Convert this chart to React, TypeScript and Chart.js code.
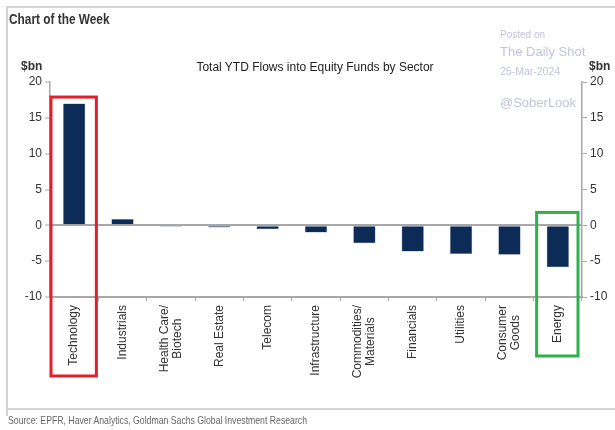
import React, { useEffect, useRef } from "react";
import { Chart, registerables } from "chart.js";

Chart.register(...registerables);

const categories: (string | string[])[] = [
  "Technology",
  "Industrials",
  ["Health Care/", "Biotech"],
  "Real Estate",
  "Telecom",
  "Infrastructure",
  ["Commodities/", "Materials"],
  "Financials",
  "Utilities",
  ["Consumer", "Goods"],
  "Energy",
];
const flows: number[] = [17.0, 0.9, -0.2, -0.3, -0.55, -1.0, -2.5, -3.65, -4.0, -4.1, -5.85];
const yMin = -10;
const yMax = 20;
const yStep = 5;

const FONT = "'Liberation Sans', Arial, sans-serif";

const framePlugin = {
  id: "frame",
  beforeDraw(chart: any) {
    const ctx = chart.ctx;
    ctx.save();
    ctx.strokeStyle = "#d4d4d4";
    ctx.lineWidth = 2;
    ctx.beginPath();
    ctx.moveTo(7, 416);
    ctx.lineTo(7, 7);
    ctx.lineTo(615, 7);
    ctx.moveTo(8, 409);
    ctx.lineTo(615, 409);
    ctx.stroke();
    ctx.restore();
  },
};

const labelPlugin = {
  id: "catLabels",
  afterDraw(chart: any) {
    const ctx = chart.ctx;
    const x = chart.scales.x;
    const top = chart.chartArea.bottom + 8;
    ctx.save();
    ctx.font = `12px ${FONT}`;
    ctx.fillStyle = "#333";
    ctx.textAlign = "center";
    ctx.textBaseline = "middle";
    const lh = 13;
    categories.forEach((lab, i) => {
      const lines = Array.isArray(lab) ? lab : [lab];
      const w = Math.max(...lines.map((l) => ctx.measureText(l).width));
      const cx = x.getPixelForValue(i);
      const cy = top + w / 2;
      lines.forEach((line, j) => {
        const off = (j - (lines.length - 1) / 2) * lh;
        ctx.save();
        ctx.translate(cx + off, cy);
        ctx.rotate(-Math.PI / 2);
        ctx.fillText(line, 0, 0);
        ctx.restore();
      });
    });
    ctx.restore();
  },
};

const highlightPlugin = {
  id: "highlight",
  afterDatasetsDraw(chart: any) {
    const ctx = chart.ctx;
    const x = chart.scales.x;
    const y = chart.scales.y;
    const band = x.width / categories.length;
    const bottom = chart.chartArea.bottom;
    ctx.save();
    ctx.lineWidth = 3;
    const c0 = x.getPixelForValue(0);
    ctx.strokeStyle = "#e0202a";
    ctx.strokeRect(c0 - band / 2 + 1, y.getPixelForValue(17.9), band - 3, bottom + 79 - y.getPixelForValue(17.9));
    const cE = x.getPixelForValue(categories.length - 1);
    ctx.strokeStyle = "#2fb24a";
    ctx.strokeRect(cE - band / 2 + 3, y.getPixelForValue(1.8), band - 7, bottom + 59 - y.getPixelForValue(1.8));
    ctx.restore();
  },
};

export default function App() {
  const ref = useRef<HTMLCanvasElement>(null);

  useEffect(() => {
    if (!ref.current) return;
    const axisColor = "#a8a8a8";
    const chart = new Chart(ref.current, {
      type: "bar",
      data: {
        labels: categories,
        datasets: [
          {
            data: flows,
            backgroundColor: "#0c2c57",
            borderColor: "#6b7d96",
            borderWidth: 0.5,
            barPercentage: 0.46,
            categoryPercentage: 1,
          },
        ],
      },
      plugins: [framePlugin, highlightPlugin, labelPlugin],
      options: {
        animation: false,
        responsive: false,
        maintainAspectRatio: false,
        layout: { padding: { top: 82, left: 0, right: 0, bottom: 0 } },
        plugins: { legend: { display: false }, tooltip: { enabled: false } },
        scales: {
          x: {
            offset: true,
            grid: {
              offset: true,
              drawOnChartArea: false,
              drawTicks: true,
              tickLength: 4,
              color: axisColor,
            },
            border: { color: axisColor, width: 2 },
            ticks: { display: false, autoSkip: false },
            afterFit(scale: any) {
              scale.height = 133;
            },
          },
          y: {
            position: "left",
            min: yMin,
            max: yMax,
            ticks: {
              stepSize: yStep,
              padding: 3,
              color: "#333",
              font: { family: FONT, size: 12 },
            },
            grid: {
              color: (c: any) => (c.tick && c.tick.value === 0 ? axisColor : "transparent"),
              lineWidth: 2,
              tickColor: axisColor,
              tickLength: 5,
              tickWidth: 1,
            },
            border: { color: axisColor, width: 1.5 },
            afterFit(scale: any) {
              scale.width = 50;
            },
          },
          y2: {
            position: "right",
            min: yMin,
            max: yMax,
            ticks: {
              stepSize: yStep,
              padding: 3,
              color: "#333",
              font: { family: FONT, size: 12 },
            },
            grid: {
              drawOnChartArea: false,
              tickColor: axisColor,
              tickLength: 5,
            },
            border: { color: axisColor, width: 1.5 },
            afterFit(scale: any) {
              scale.width = 33;
            },
          },
        },
      },
    } as any);
    return () => chart.destroy();
  }, []);

  const abs = (style: React.CSSProperties): React.CSSProperties => ({
    position: "absolute",
    whiteSpace: "nowrap",
    lineHeight: 1,
    ...style,
  });
  const wm = "#c3c3de";

  return (
    <div style={{ position: "fixed", left: 0, top: 0, width: 615, height: 430, background: "#fff", overflow: "hidden" }}>
      <canvas ref={ref} width={615} height={430} style={{ position: "absolute", left: 0, top: 0, width: 615, height: 430 }} />
      <div style={abs({ left: 9, top: 11, fontFamily: FONT, fontWeight: "bold", fontSize: 15, color: "#333", transform: "scaleX(0.79)", transformOrigin: "left top" })}>
        Chart of the Week
      </div>
      <div style={abs({ left: 0, width: 630, top: 61, textAlign: "center", fontFamily: FONT, fontSize: 12, color: "#222" })}>
        Total YTD Flows into Equity Funds by Sector
      </div>
      <div style={abs({ left: 21, top: 60, fontFamily: FONT, fontSize: 12, fontWeight: "bold", color: "#333" })}>$bn</div>
      <div style={abs({ left: 589, top: 60, fontFamily: FONT, fontSize: 12, fontWeight: "bold", color: "#333" })}>$bn</div>
      <div style={abs({ left: 500, top: 30, fontFamily: FONT, fontSize: 10, color: wm })}>Posted on</div>
      <div style={abs({ left: 500, top: 45, fontFamily: FONT, fontSize: 13, color: wm })}>The Daily Shot</div>
      <div style={abs({ left: 500, top: 66, fontFamily: FONT, fontSize: 10.5, color: wm })}>25-Mar-2024</div>
      <div style={abs({ left: 500, top: 96, fontFamily: FONT, fontSize: 13, color: wm })}>@SoberLook</div>
      <div style={abs({ left: 8, top: 415, fontFamily: FONT, fontSize: 11, color: "#666", transform: "scaleX(0.79)", transformOrigin: "left top" })}>
        Source: EPFR, Haver Analytics, Goldman Sachs Global Investment Research
      </div>
    </div>
  );
}
